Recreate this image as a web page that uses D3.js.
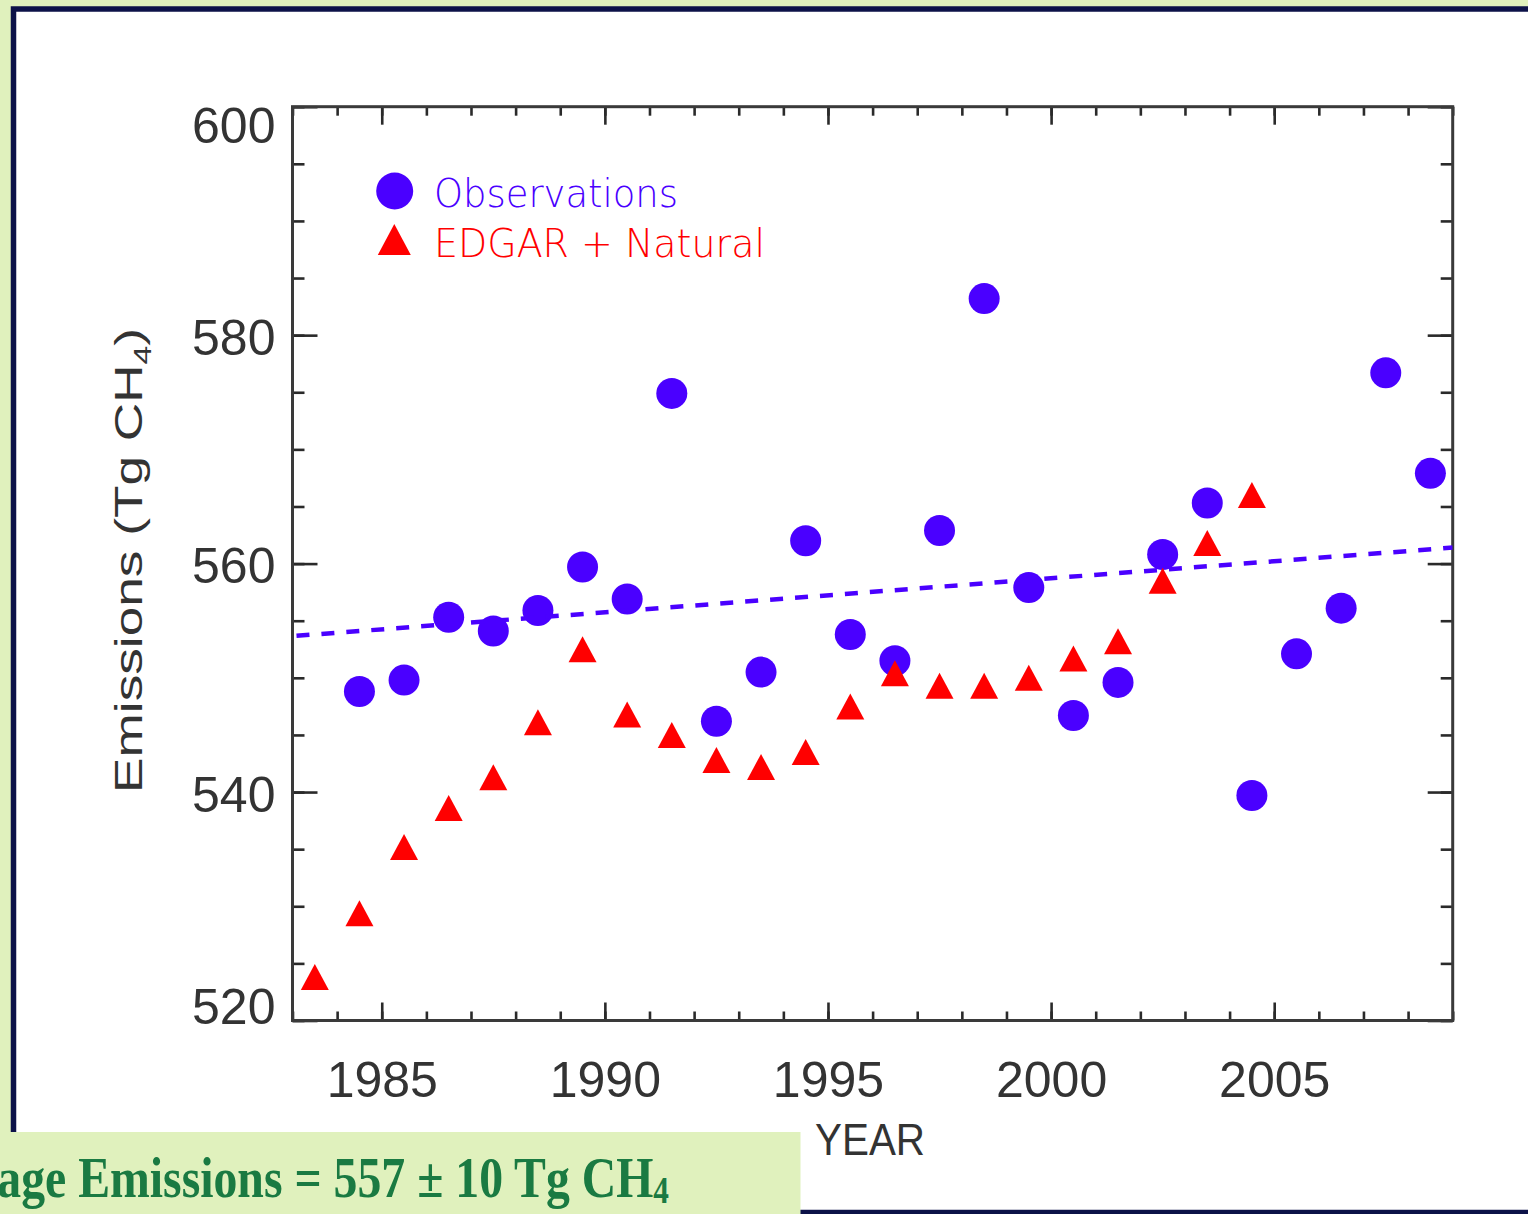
<!DOCTYPE html>
<html>
<head>
<meta charset="utf-8">
<script src="https://cdn.jsdelivr.net/npm/d3@7"></script>
<style>
  html, body { margin: 0; padding: 0; background: #e0f1bd; overflow: hidden; }
  svg { display: block; }
</style>
</head>
<body>
<svg id="chart" width="1528" height="1214"></svg>
<script>
// ---- data ----
const obsYears = [1984.5,1985.5,1986.5,1987.5,1988.5,1989.5,1990.5,1991.5,1992.5,1993.5,1994.5,1995.5,1996.5,1997.5,1998.5,1999.5,2000.5,2001.5,2002.5,2003.5,2004.5,2005.5,2006.5,2007.5,2008.5];
const obsValues = [548.8,549.8,555.3,554.1,555.9,559.7,556.9,574.9,546.2,550.5,562.0,553.8,551.5,562.9,583.2,557.9,546.7,549.6,560.8,565.3,539.7,552.1,556.1,576.7,567.9];
const edgarYears = [1983.5,1984.5,1985.5,1986.5,1987.5,1988.5,1989.5,1990.5,1991.5,1992.5,1993.5,1994.5,1995.5,1996.5,1997.5,1998.5,1999.5,2000.5,2001.5,2002.5,2003.5,2004.5];
const edgarValues = [523.8,529.4,535.2,538.6,541.3,546.1,552.5,546.8,545.0,542.8,542.2,543.5,547.5,550.4,549.3,549.3,550.0,551.7,553.2,558.5,561.8,566.0];
const trendYears = [1983, 2009];
const trendValues = [553.65, 561.4];
const xMajorTicks = [1985, 1990, 1995, 2000, 2005];
const xMinorTicks = d3.range(1983, 2010, 1);
const yMajorTicks = [520, 540, 560, 580, 600];
const yMinorTicks = d3.range(520, 601, 5);
const legendLabels = ["Observations", "EDGAR + Natural"];
const xTitle = "YEAR";
const yTitleMain = "Emissions (Tg CH";
const yTitleSub = "4";
const noteMain = "Average Emissions = 557 \u00b1 10 Tg CH";
const noteSub = "4";

// ---- layout ----
const W = 1528, H = 1214;
const plot = { left: 292.5, right: 1452.7, top: 106.7, bottom: 1020.5 };
const blue = "#4a00ff", red = "#ff0000", navy = "#0c1248";
const svg = d3.select("#chart");

// page background + white panel with navy border
svg.append("rect").attr("x", 0).attr("y", 0).attr("width", W).attr("height", H).attr("fill", "#e0f1bd");
svg.append("rect").attr("x", 13.5).attr("y", 9).attr("width", W + 20).attr("height", 1203.5)
  .attr("fill", "#ffffff").attr("stroke", navy).attr("stroke-width", 5.5);

const x = d3.scaleLinear().domain([1983, 2009]).range([plot.left, plot.right]);
const y = d3.scaleLinear().domain([520, 600]).range([plot.bottom, plot.top]);

const axisColor = "#2a2a2a";
const labelFont = "'Liberation Sans', Arial, Helvetica, sans-serif";

function styleAxis(g) {
  g.select(".domain").remove();
  g.selectAll(".tick line").attr("stroke", axisColor).attr("stroke-width", 2.6);
}

// bottom axis: minor + major (inward)
svg.append("g").attr("transform", `translate(0,${plot.bottom})`)
  .call(d3.axisBottom(x).tickValues(xMinorTicks).tickSize(-9).tickFormat(""))
  .call(styleAxis);
const xb = svg.append("g").attr("transform", `translate(0,${plot.bottom})`)
  .call(d3.axisBottom(x).tickValues(xMajorTicks).tickSize(-18).tickPadding(40.5).tickFormat(d3.format("d")))
  .call(styleAxis);
xb.selectAll(".tick text").attr("font-family", labelFont).attr("font-size", 50).attr("fill", "#333");

// top axis
svg.append("g").attr("transform", `translate(0,${plot.top})`)
  .call(d3.axisTop(x).tickValues(xMinorTicks).tickSize(-9).tickFormat(""))
  .call(styleAxis);
svg.append("g").attr("transform", `translate(0,${plot.top})`)
  .call(d3.axisTop(x).tickValues(xMajorTicks).tickSize(-18).tickFormat(""))
  .call(styleAxis);

// left axis
svg.append("g").attr("transform", `translate(${plot.left},0)`)
  .call(d3.axisLeft(y).tickValues(yMinorTicks).tickSize(-12).tickFormat(""))
  .call(styleAxis);
const yl = svg.append("g").attr("transform", `translate(${plot.left},0)`)
  .call(d3.axisLeft(y).tickValues(yMajorTicks).tickSize(-25).tickPadding(17).tickFormat(d3.format("d")))
  .call(styleAxis);
yl.selectAll(".tick text").attr("font-family", labelFont).attr("font-size", 50).attr("fill", "#333")
  .attr("dy", d => d === 600 ? "0.72em" : (d === 520 ? "0.05em" : "0.38em"));

// right axis
svg.append("g").attr("transform", `translate(${plot.right},0)`)
  .call(d3.axisRight(y).tickValues(yMinorTicks).tickSize(-12).tickFormat(""))
  .call(styleAxis);
svg.append("g").attr("transform", `translate(${plot.right},0)`)
  .call(d3.axisRight(y).tickValues(yMajorTicks).tickSize(-25).tickFormat(""))
  .call(styleAxis);

// plot frame
svg.append("rect").attr("x", plot.left).attr("y", plot.top)
  .attr("width", plot.right - plot.left).attr("height", plot.bottom - plot.top)
  .attr("fill", "none").attr("stroke", "#3a3a3a").attr("stroke-width", 3);

// axis titles
svg.append("text").attr("x", 870).attr("y", 1155).attr("text-anchor", "middle")
  .attr("font-family", labelFont).attr("font-size", 45).attr("fill", "#333")
  .attr("textLength", 110).attr("lengthAdjust", "spacingAndGlyphs").text(xTitle);

const yt = svg.append("text").attr("transform", "translate(142,560.5) rotate(-90)")
  .attr("text-anchor", "middle").attr("font-family", labelFont).attr("font-size", 38).attr("fill", "#333")
  .attr("textLength", 465).attr("lengthAdjust", "spacingAndGlyphs");
yt.append("tspan").text(yTitleMain);
yt.append("tspan").attr("font-size", 24).attr("dy", 9).text(yTitleSub);
yt.append("tspan").attr("dy", -9).text(")");

// clip
svg.append("clipPath").attr("id", "plotclip").append("rect")
  .attr("x", plot.left).attr("y", plot.top).attr("width", plot.right - plot.left).attr("height", plot.bottom - plot.top);

const marks = svg.append("g").attr("clip-path", "url(#plotclip)");

// observations
marks.selectAll("circle.obs").data(obsYears.map((yr, i) => [yr, obsValues[i]]))
  .join("circle").attr("class", "obs")
  .attr("cx", d => x(d[0])).attr("cy", d => y(d[1])).attr("r", 15.5).attr("fill", blue);

// triangles
const triW = 28, triH = 26;
function triPath(cx, cy, w, h) {
  return `M${cx},${cy - h / 2}L${cx + w / 2},${cy + h / 2}L${cx - w / 2},${cy + h / 2}Z`;
}
marks.selectAll("path.edgar").data(edgarYears.map((yr, i) => [yr, edgarValues[i]]))
  .join("path").attr("class", "edgar")
  .attr("d", d => triPath(x(d[0]), y(d[1]), triW, triH)).attr("fill", red);

// trend line
marks.append("path")
  .datum(trendYears.map((yr, i) => [yr, trendValues[i]]))
  .attr("d", d3.line().x(d => x(d[0])).y(d => y(d[1])))
  .attr("fill", "none").attr("stroke", blue).attr("stroke-width", 4.5)
  .attr("stroke-dasharray", "13,12").attr("stroke-dashoffset", -4);

// legend
const legFont = "'DejaVu Sans', 'Liberation Sans', sans-serif";
svg.append("circle").attr("cx", 394.7).attr("cy", 191).attr("r", 18.5).attr("fill", blue);
svg.append("path").attr("d", triPath(394.3, 239.5, 33, 31)).attr("fill", red);
svg.append("text").attr("x", 434).attr("y", 207.3).attr("font-family", legFont).attr("font-weight", 200)
  .attr("font-size", 39).attr("fill", blue).attr("textLength", 244).attr("lengthAdjust", "spacingAndGlyphs")
  .text(legendLabels[0]);
svg.append("text").attr("x", 434).attr("y", 256.7).attr("font-family", legFont).attr("font-weight", 200)
  .attr("font-size", 39).attr("fill", red).attr("textLength", 331).attr("lengthAdjust", "spacingAndGlyphs")
  .attr("xml:space", "preserve")
  .text(legendLabels[1]);

// bottom-left note box
svg.append("rect").attr("x", 0).attr("y", 1132).attr("width", 800.5).attr("height", 90).attr("fill", "#e0f1bd");
const noteG = svg.append("g");
const note = noteG.append("text").attr("text-anchor", "end")
  .attr("font-family", "'Liberation Serif', 'Times New Roman', serif").attr("font-weight", "bold")
  .attr("font-size", 58).attr("fill", "#1a7a42");
note.append("tspan").text(noteMain);
note.append("tspan").attr("font-size", 38).attr("dy", 6).text(noteSub);
// squeeze horizontally so "Emissions ... CH4" spans the measured width
const fullW = note.node().getComputedTextLength();
const prefixW = note.node().getSubStringLength(0, 8);
const sx = (669 - 78) / (fullW - prefixW);
noteG.attr("transform", `translate(669,1197) scale(${sx},1)`);
</script>
</body>
</html>
